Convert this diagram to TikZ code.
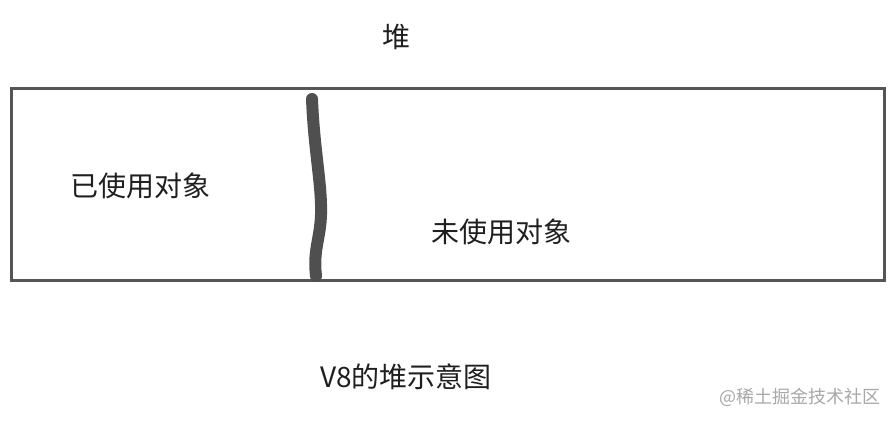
\documentclass[tikz,border=0pt]{standalone}
\usepackage{fontspec}
\newfontfamily\cjk{Noto Sans CJK SC}
\definecolor{edgegray}{HTML}{555555}
\definecolor{strokegray}{HTML}{4F4F4F}
\definecolor{wmgray}{HTML}{A8A8A8}
\begin{document}
\begin{tikzpicture}[x=1pt,y=-1pt,
  lbl/.style={font=\cjk\fontsize{28}{32}\selectfont, text=black!88, inner sep=0pt},
  wmk/.style={font=\cjk\fontsize{18}{21}\selectfont, text=wmgray, inner sep=0pt}]
\useasboundingbox[fill=white] (0,0) rectangle (896,422);
\node[draw=edgegray, line width=3pt, minimum width=873pt, minimum height=191pt, inner sep=0pt] (heap) at (448,184.5) {};
\node[lbl] (title) at (396,37) {堆};
\node[lbl] (used) at (140,186) {已使用对象};
\node[lbl] (unused) at (501,232) {未使用对象};
\node[lbl] (caption) at (406,377) {V8的堆示意图};
\node[wmk] (wm) at (800,397) {@稀土掘金技术社区};
\coordinate (ltop) at (312,99);
\coordinate (lbot) at (316,276);
\draw[strokegray, line width=12pt, line cap=round, line join=round]
  (ltop) .. controls (314,150) and (322,185) .. (321,215)
  .. controls (320,240) and (313,250) .. (lbot);
\end{tikzpicture}
\end{document}
